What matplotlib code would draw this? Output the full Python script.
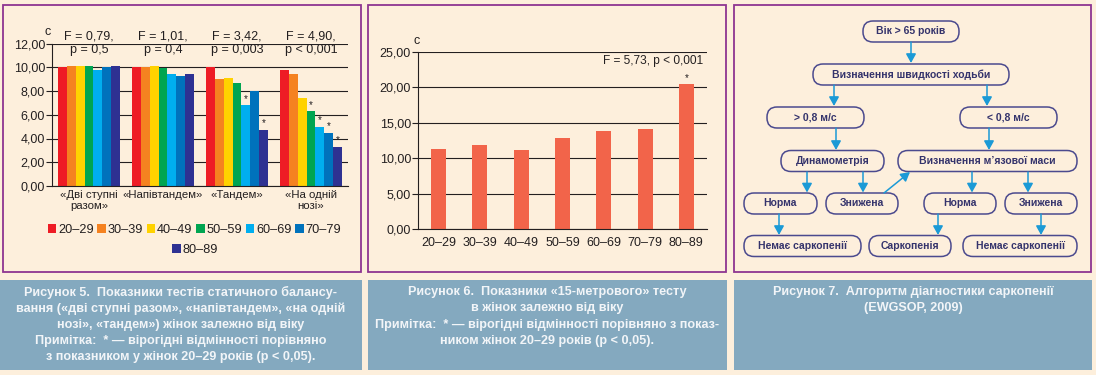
import matplotlib
matplotlib.use("Agg")
import matplotlib.pyplot as plt
from matplotlib.patches import Rectangle, FancyBboxPatch
from matplotlib import font_manager

W, H = 1096, 375

# ---- data ----
tests = ["«Дві ступні\nразом»", "«Напівтандем»", "«Тандем»", "«На одній\nнозі»"]
ages = ["20–29", "30–39", "40–49", "50–59", "60–69", "70–79", "80–89"]
f_stats = ["F = 0,79,\np = 0,5", "F = 1,01,\np = 0,4", "F = 3,42,\np = 0,003", "F = 4,90,\np < 0,001"]
# balance time (s) per age group, one list per test
balance = [
    [10.0, 10.1, 10.1, 10.1, 9.77, 10.0, 10.1],
    [10.0, 10.0, 10.1, 9.94, 9.43, 9.26, 9.43],
    [10.0, 9.0, 9.09, 8.66, 6.79, 8.01, 4.74],
    [9.77, 9.43, 7.39, 6.28, 5.0, 4.49, 3.30],
]
balance_sig = [
    [],
    [],
    ["60–69", "80–89"],
    ["50–59", "60–69", "70–79", "80–89"],
]
walk15 = [11.28, 11.84, 11.14, 12.88, 13.82, 14.10, 20.44]
walk15_sig = ["80–89"]

flow_labels = ["Вік > 65 років", "Визначення швидкості ходьби", "> 0,8 м/с", "< 0,8 м/с",
               "Динамометрія", "Визначення м\u2019язової маси", "Норма", "Знижена",
               "Норма", "Знижена", "Немає саркопенії", "Саркопенія", "Немає саркопенії"]

captions = [
    ["Рисунок 5.  Показники тестів статичного балансу-",
     "вання («дві ступні разом», «напівтандем», «на одній",
     "нозі», «тандем») жінок залежно від віку",
     "Примітка:  * — вірогідні відмінності порівняно",
     "з показником у жінок 20–29 років (p < 0,05)."],
    ["Рисунок 6.  Показники «15-метрового» тесту",
     "в жінок залежно від віку",
     "Примітка:  * — вірогідні відмінності порівняно з показ-",
     "ником жінок 20–29 років (p < 0,05)."],
    ["Рисунок 7.  Алгоритм діагностики саркопенії",
     "(EWGSOP, 2009)"],
]

# ---- style ----
bg = "#fdefdc"
border = "#8e3491"
cap_bg = "#84a9bf"
ink = "#231f20"
navy = "#34336c"
arrow_c = "#1b9ad6"
age_colors = ["#ee1c25", "#f58220", "#ffd200", "#00a551", "#00aeef", "#0072bc", "#2e3192"]
bar2_color = "#f2644a"

plt.rcParams["font.family"] = ["Liberation Sans", "DejaVu Sans"]
plt.rcParams["font.size"] = 9
plt.rcParams["text.color"] = ink
plt.rcParams["axes.edgecolor"] = ink
plt.rcParams["xtick.color"] = ink
plt.rcParams["ytick.color"] = ink

names = {f.name for f in font_manager.fontManager.ttflist}
narrow = "Liberation Sans Narrow" in names
cap_family = ["Liberation Sans Narrow", "Liberation Sans"] if narrow else ["Liberation Sans"]
cap_size = 10.5 if narrow else 9.1


def fig_rect(x0, y0, x1, y1):
    return [x0 / W, 1 - y1 / H, (x1 - x0) / W, (y1 - y0) / H]


fig = plt.figure(figsize=(W / 100, H / 100), dpi=100, facecolor=bg)

# overlay in pixel coordinates for frames, captions and the flowchart
ov = fig.add_axes([0, 0, 1, 1], zorder=0)
ov.set_xlim(0, W)
ov.set_ylim(H, 0)
ov.axis("off")

for x0, x1 in [(3, 361), (368, 726), (734, 1091)]:
    ov.add_patch(Rectangle((x0, 5), x1 - x0, 267, fill=False, ec=border, lw=1.3))
for (x0, x1), lines in zip([(0, 362), (368, 727), (734, 1092)], captions):
    ov.add_patch(Rectangle((x0, 280), x1 - x0, 90, color=cap_bg, lw=0))
    for i, line in enumerate(lines):
        ov.text((x0 + x1) / 2, 292 + 16.3 * i, line, ha="center", va="center",
                color="#f2f5f8", fontsize=cap_size, fontweight="bold", family=cap_family)

# ---- figure 5 ----
ax1 = fig.add_axes(fig_rect(52, 43.5, 348, 186), zorder=2)
ax1.set_facecolor("none")
n = len(ages)
bw = 0.85 / n
for j, age in enumerate(ages):
    xs = [i - 0.425 + bw * (j + 0.5) for i in range(len(tests))]
    vals = [balance[i][j] for i in range(len(tests))]
    ax1.bar(xs, vals, width=bw, color=age_colors[j], label=age, lw=0)
    for i, x in enumerate(xs):
        if age in balance_sig[i]:
            ax1.annotate("*", (x, vals[i]), xytext=(0, 1), textcoords="offset points",
                         ha="center", va="bottom", fontsize=7)
ax1.set_xlim(-0.5, len(tests) - 0.5)
ax1.set_ylim(0, 12)
ax1.set_yticks(range(0, 13, 2))
ax1.set_yticklabels([f"{v:.2f}".replace(".", ",") for v in range(0, 13, 2)])
ax1.set_xticks(range(len(tests)))
ax1.set_xticklabels(tests, linespacing=1.15, fontsize=8.2)
ax1.tick_params(axis="x", length=0, pad=3)
ax1.tick_params(axis="y", length=4, width=0.8, pad=1)
ax1.yaxis.grid(True, color=ink, lw=0.8)
ax1.set_axisbelow(True)
for s in ["top", "right"]:
    ax1.spines[s].set_visible(False)
for s in ["left", "bottom"]:
    ax1.spines[s].set_linewidth(0.8)
for i, txt in enumerate(f_stats):
    ax1.text(i, 12.05, txt, ha="center", va="center", linespacing=1.15)
ov.text(48, 32, "c", ha="center", va="center")

handles, labels = ax1.get_legend_handles_labels()
leg_kw = dict(frameon=False, fontsize=9.2, handlelength=0.65, handleheight=0.65,
              handletextpad=0.15, columnspacing=0.3, borderpad=0, borderaxespad=0,
              loc="center", bbox_transform=fig.transFigure)
leg1 = ax1.legend(handles[:6], labels[:6], ncol=6, bbox_to_anchor=(194.5 / W, 1 - 230 / H), **leg_kw)
ax1.add_artist(leg1)
ax1.legend(handles[6:], labels[6:], ncol=1, bbox_to_anchor=(195 / W, 1 - 250 / H), **leg_kw)

# ---- figure 6 ----
ax2 = fig.add_axes(fig_rect(418, 51.7, 707, 229), zorder=2)
ax2.set_facecolor("none")
ax2.bar(ages, walk15, width=0.36, color=bar2_color, lw=0)
for i, age in enumerate(ages):
    if age in walk15_sig:
        ax2.annotate("*", (i, walk15[i]), xytext=(0, 1), textcoords="offset points",
                     ha="center", va="bottom", fontsize=7)
ax2.set_xlim(-0.5, len(ages) - 0.5)
ax2.set_ylim(0, 25)
ax2.set_yticks(range(0, 26, 5))
ax2.set_yticklabels([f"{v:.2f}".replace(".", ",") for v in range(0, 26, 5)])
ax2.tick_params(axis="x", length=0, pad=6)
ax2.tick_params(axis="y", length=4, width=0.8, pad=1)
ax2.yaxis.grid(True, color=ink, lw=0.8)
ax2.set_axisbelow(True)
for s in ["top", "right"]:
    ax2.spines[s].set_visible(False)
for s in ["left", "bottom"]:
    ax2.spines[s].set_linewidth(0.8)
ax2.text(0.986, 0.9475, "F = 5,73, p < 0,001", transform=ax2.transAxes, ha="right", va="center",
         fontsize=8.6)
ov.text(417, 41, "c", ha="center", va="center")

# ---- figure 7: flowchart ----
node_pos = [(911, 31.5, 96), (911, 74.5, 196), (815.5, 117.5, 97), (1008.5, 117.5, 97),
            (832.5, 161, 103), (987.5, 161, 179), (780.5, 203.5, 73), (862, 203.5, 72),
            (960, 203.5, 72), (1041, 203.5, 72), (802.5, 246, 117), (910, 246, 82),
            (1020, 246, 114)]
bh = 21
for (cx, cy, w), label in zip(node_pos, flow_labels):
    ov.add_patch(FancyBboxPatch((cx - w / 2, cy - bh / 2), w, bh,
                                boxstyle="round,pad=0,rounding_size=10",
                                fc=bg, ec="#4b4a8e", lw=1.1))
    ov.text(cx, cy, label, ha="center", va="center", fontsize=7.5,
            fontweight="bold", color=navy)

links = [((911, 42), (911, 63)), ((834, 85), (834, 106)), ((987, 85), (987, 106)),
         ((836, 128), (836, 150)), ((989, 128), (989, 150)), ((807, 172), (807, 192.5)),
         ((863, 172), (863, 192.5)), ((884, 193), (910, 172)), ((972, 172), (972, 192.5)),
         ((1028, 172), (1028, 192.5)), ((779, 214), (779, 235)), ((938, 214), (938, 235)),
         ((1041, 214), (1041, 235))]
for start, end in links:
    ov.annotate("", xy=end, xytext=start,
                arrowprops=dict(arrowstyle="-|>,head_length=0.45,head_width=0.25",
                                color=arrow_c, lw=1.1, mutation_scale=12,
                                shrinkA=0, shrinkB=0))

fig.savefig("out.png", dpi=100, facecolor=bg)
